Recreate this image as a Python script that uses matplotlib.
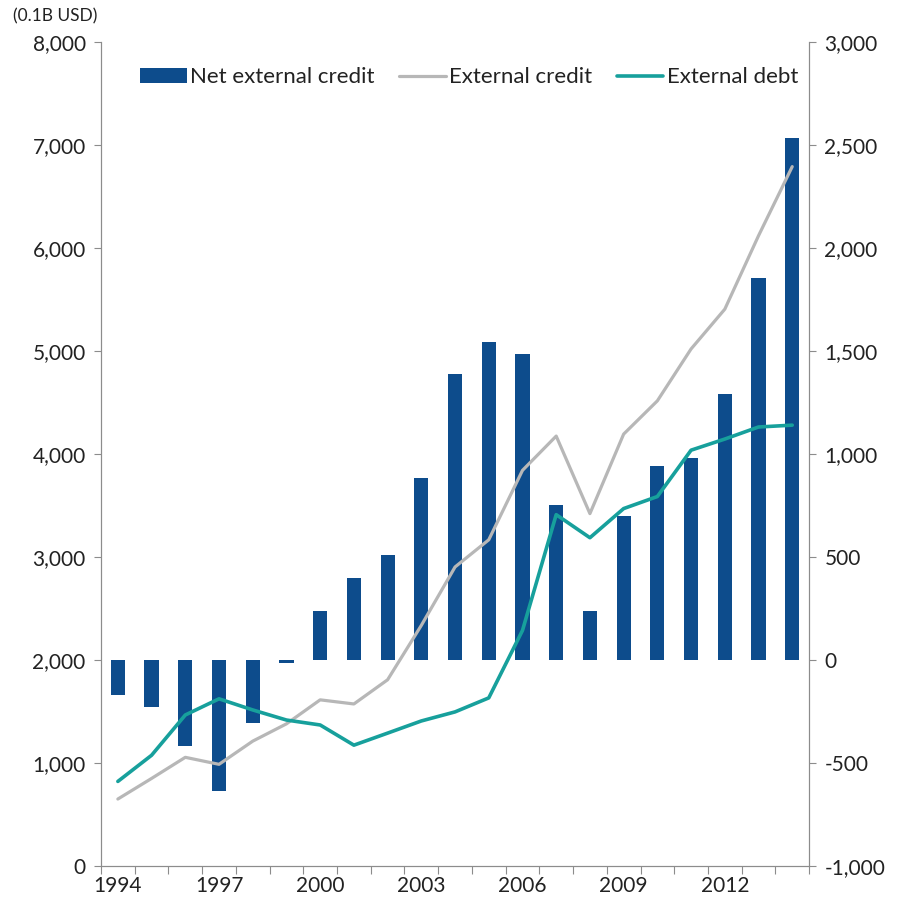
import matplotlib
matplotlib.use("Agg")
import matplotlib.pyplot as plt
from matplotlib.ticker import FuncFormatter, FixedLocator
import numpy as np

plt.rcParams['font.family'] = ['Lato', 'DejaVu Sans']

years = list(range(1994, 2015))
net_external_credit = [-170, -228, -417, -636, -306, -15, 238, 398, 510, 882,
                       1390, 1545, 1485, 752, 238, 699, 942, 980, 1291, 1854, 2534]
external_credit = [650, 850, 1055, 987, 1212, 1380, 1613, 1573, 1808, 2336,
                   2903, 3167, 3841, 4174, 3421, 4193, 4516, 5020, 5406, 6119, 6790]
external_debt = [821, 1075, 1466, 1623, 1515, 1417, 1369, 1173, 1290, 1408,
                 1496, 1632, 2287, 3411, 3187, 3470, 3587, 4037, 4145, 4262, 4280]

BAR = "#0D4C8C"
GRAY = "#B7B7B7"
TEAL = "#17A09C"
SPINE = "#8C8C8C"
TEXT = "#222222"
FS = 15

fig = plt.figure(figsize=(8.97, 9.13), dpi=100)
ax_bar = fig.add_axes([0.1126, 0.0515, 0.7894, 0.9025])
ax_line = ax_bar.twinx()

x = np.arange(len(years))

# bars on the right-hand scale
ax_bar.bar(x, net_external_credit, width=0.42, color=BAR, label="Net external credit", zorder=2)
ax_bar.set_ylim(-1000, 3000)
ax_bar.yaxis.tick_right()
ax_bar.yaxis.set_label_position("right")
ax_bar.set_yticks(np.arange(-1000, 3001, 500))

# lines on the left-hand scale
ax_line.plot(x, external_credit, color=GRAY, lw=2.3, label="External credit", solid_capstyle="round")
ax_line.plot(x, external_debt, color=TEAL, lw=2.6, label="External debt", solid_capstyle="round")
ax_line.set_ylim(0, 8000)
ax_line.yaxis.tick_left()
ax_line.yaxis.set_label_position("left")
ax_line.set_yticks(np.arange(0, 8001, 1000))

fmt = FuncFormatter(lambda v, p: f"{int(v):,}")
ax_bar.yaxis.set_major_formatter(fmt)
ax_line.yaxis.set_major_formatter(fmt)

ax_bar.set_xlim(-0.5, len(years) - 0.5)
ax_bar.xaxis.set_major_locator(FixedLocator(np.arange(-0.5, len(years), 1)))
ax_bar.xaxis.set_major_formatter(FuncFormatter(lambda v, p: ""))
ax_bar.xaxis.set_minor_locator(FixedLocator(x[::3]))
ax_bar.xaxis.set_minor_formatter(FuncFormatter(lambda v, p: str(years[int(round(v))])))
ax_bar.tick_params(axis="x", which="major", direction="out", length=6, color=SPINE)
ax_bar.tick_params(axis="x", which="minor", length=0, pad=7, labelsize=FS, labelcolor=TEXT)

for a in (ax_bar, ax_line):
    for s in a.spines.values():
        s.set_color(SPINE)
    a.spines["top"].set_visible(False)
    a.tick_params(axis="y", direction="out", length=5, color=SPINE, labelsize=FS,
                  labelcolor=TEXT, pad=6)

fig.text(0.062, 0.982, "(0.1B USD)", fontsize=12.5, color=TEXT, ha="center", va="center")

handles = ax_bar.get_legend_handles_labels()[0] + ax_line.get_legend_handles_labels()[0]
labels = ax_bar.get_legend_handles_labels()[1] + ax_line.get_legend_handles_labels()[1]
ax_line.legend(handles, labels, ncol=3, frameon=False, loc="center",
               bbox_to_anchor=(0.52, 0.957), fontsize=16, handlelength=2.1,
               handletextpad=0.15, columnspacing=1.1, labelcolor=TEXT)

fig.savefig("out.png", dpi=100, facecolor="white")
